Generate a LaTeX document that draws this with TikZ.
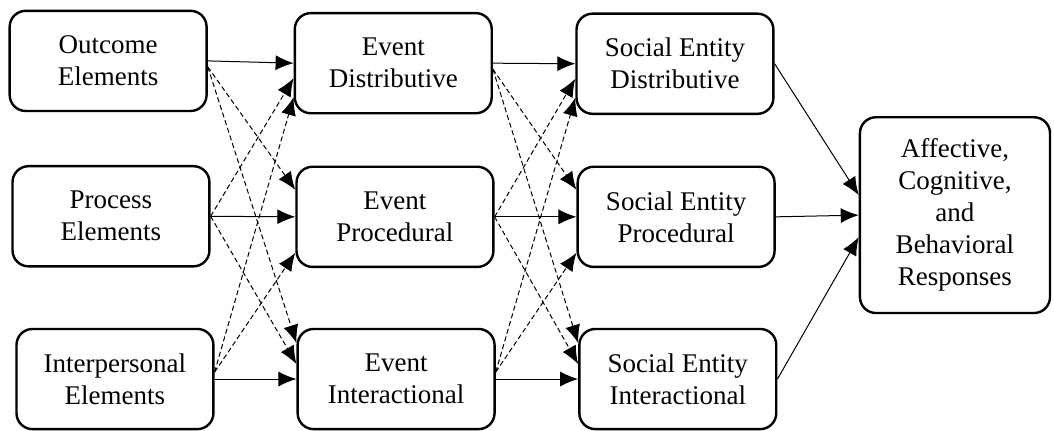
\documentclass[tikz,border=0pt]{standalone}
\usepackage{fontspec}
\setmainfont{Liberation Serif}
\usetikzlibrary{arrows.meta}

\begin{document}
\begin{tikzpicture}[auto, >={Latex[length=9pt,width=7.5pt]},
	block/.style={rectangle, rounded corners=8pt, draw=black, line width=1.2pt, align=center,
		minimum width=3.46cm, minimum height=1.76cm, font=\fontsize{13.5}{16}\selectfont},
	link/.style={->, line width=0.5pt},
	cross/.style={->, line width=0.5pt, dash pattern=on 2.5pt off 1.5pt}]
	\useasboundingbox (0,0) rectangle (18.52cm,-7.556cm);
	% elements
	\node [block] (outcome) at (1.90cm,-1.07cm) {Outcome\\Elements};
	\node [block] (process) at (1.95cm,-3.80cm) {Process\\Elements};
	\node [block] (interpersonal) at (2.02cm,-6.66cm) {Interpersonal\\Elements};
	% event justice
	\node [block] (evdist) at (6.91cm,-1.11cm) {Event\\Distributive};
	\node [block] (evproc) at (6.94cm,-3.81cm) {Event\\Procedural};
	\node [block] (evinter) at (6.96cm,-6.66cm) {Event\\Interactional};
	% social entity justice
	\node [block] (sedist) at (11.86cm,-1.12cm) {Social Entity\\Distributive};
	\node [block] (seproc) at (11.88cm,-3.81cm) {Social Entity\\Procedural};
	\node [block] (seinter) at (11.91cm,-6.66cm) {Social Entity\\Interactional};
	% outcomes
	\node [block, minimum width=3.34cm, minimum height=3.44cm] (responses) at (16.78cm,-3.78cm)
		{Affective,\\Cognitive,\\and\\Behavioral\\Responses};

	\draw [link] (outcome.east) -- (evdist.west);
	\draw [link] (process.east) -- (evproc.west);
	\draw [link] (interpersonal.east) -- (evinter.west);
	\draw [cross] ([yshift=-3pt]outcome.east) -- ([yshift=13.5pt]evproc.west);
	\draw [cross] ([yshift=-3pt]outcome.east) -- ([yshift=18pt]evinter.west);
	\draw [cross] (process.east) -- ([yshift=-7.5pt]evdist.west);
	\draw [cross] (process.east) -- ([yshift=7.5pt]evinter.west);
	\draw [cross] ([yshift=3.5pt]interpersonal.east) -- ([yshift=-17pt]evdist.west);
	\draw [cross] ([yshift=3.5pt]interpersonal.east) -- ([yshift=-18pt]evproc.west);

	\draw [link] (evdist.east) -- (sedist.west);
	\draw [link] (evproc.east) -- (seproc.west);
	\draw [link] (evinter.east) -- (seinter.west);
	\draw [cross] ([yshift=-3pt]evdist.east) -- ([yshift=13.5pt]seproc.west);
	\draw [cross] ([yshift=-3pt]evdist.east) -- ([yshift=18pt]seinter.west);
	\draw [cross] (evproc.east) -- ([yshift=-7.5pt]sedist.west);
	\draw [cross] (evproc.east) -- ([yshift=7.5pt]seinter.west);
	\draw [cross] ([yshift=3.5pt]evinter.east) -- ([yshift=-17pt]sedist.west);
	\draw [cross] ([yshift=3.5pt]evinter.east) -- ([yshift=-18pt]seproc.west);

	\draw [link] (sedist.east) -- ([yshift=10pt]responses.west);
	\draw [link] (seproc.east) -- (responses.west);
	\draw [link] (seinter.east) -- ([yshift=-11pt]responses.west);
\end{tikzpicture}
\end{document}
